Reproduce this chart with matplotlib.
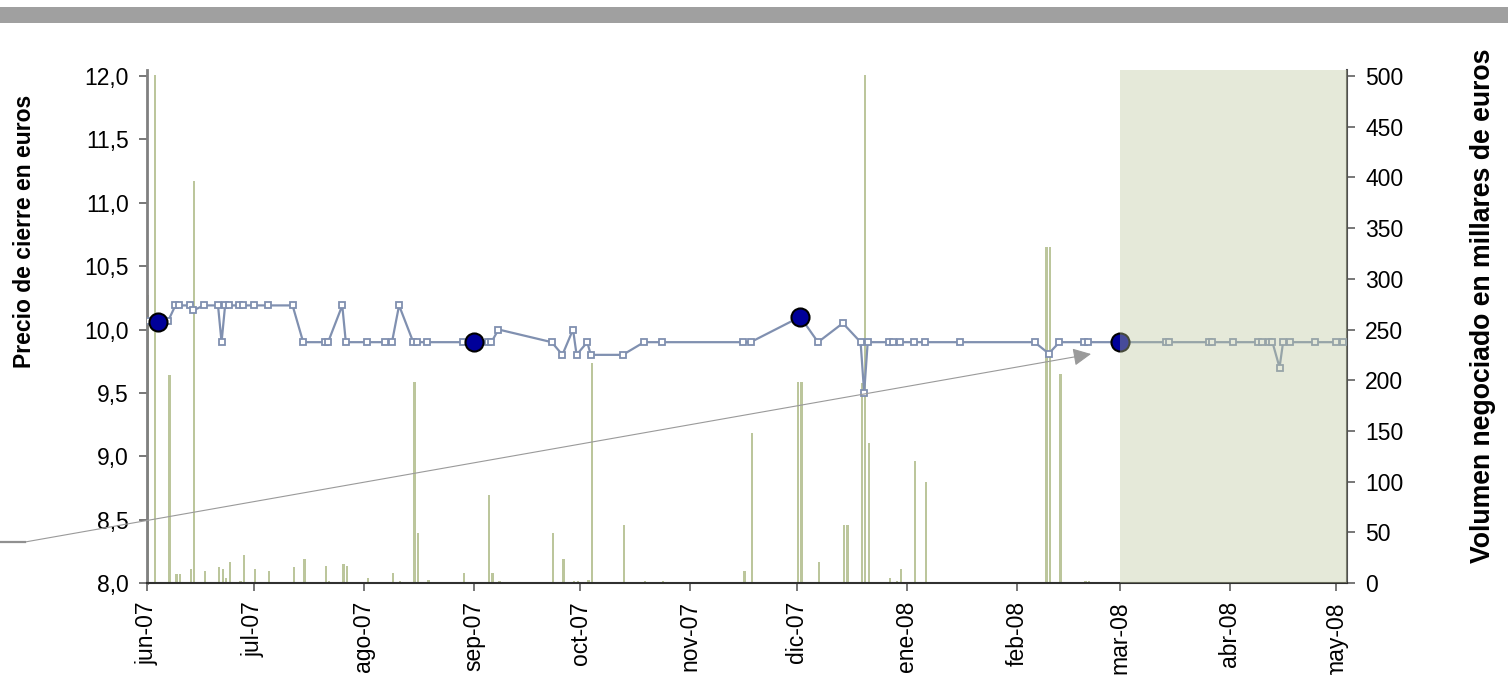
import matplotlib
matplotlib.use('Agg')
import matplotlib.pyplot as plt
import matplotlib.ticker as mticker
import pandas as pd
from matplotlib.patches import Rectangle
from matplotlib.lines import Line2D

plt.rcParams['font.family'] = ['Liberation Sans', 'DejaVu Sans']

# ---------------- data ----------------
price_dates = [
    "2007-06-01", "2007-06-04", "2007-06-07", "2007-06-09", "2007-06-10", "2007-06-13",
    "2007-06-14", "2007-06-17", "2007-06-21", "2007-06-22", "2007-06-23", "2007-06-24",
    "2007-06-27", "2007-06-28", "2007-07-01", "2007-07-05", "2007-07-12", "2007-07-15",
    "2007-07-21", "2007-07-22", "2007-07-26", "2007-07-27", "2007-08-02", "2007-08-07",
    "2007-08-09", "2007-08-11", "2007-08-15", "2007-08-16", "2007-08-19", "2007-08-29",
    "2007-09-01", "2007-09-05", "2007-09-06", "2007-09-08", "2007-09-23", "2007-09-26",
    "2007-09-29", "2007-09-30", "2007-10-03", "2007-10-04", "2007-10-13", "2007-10-19",
    "2007-10-24", "2007-11-16", "2007-11-18", "2007-12-02", "2007-12-07", "2007-12-14",
    "2007-12-19", "2007-12-20", "2007-12-21", "2007-12-27", "2007-12-28", "2007-12-30",
    "2008-01-03", "2008-01-06", "2008-01-16", "2008-02-06", "2008-02-10", "2008-02-13",
    "2008-02-20", "2008-02-21", "2008-03-01", "2008-03-14", "2008-03-15", "2008-03-26",
    "2008-03-27", "2008-04-02", "2008-04-09", "2008-04-10", "2008-04-12", "2008-04-13",
    "2008-04-15", "2008-04-16", "2008-04-18", "2008-04-25", "2008-05-01", "2008-05-03",
]
price_values = [
    10.07, 10.06, 10.07, 10.19, 10.19, 10.19,
    10.15, 10.19, 10.19, 9.90, 10.19, 10.19,
    10.19, 10.19, 10.19, 10.19, 10.19, 9.90,
    9.90, 9.90, 10.19, 9.90, 9.90, 9.90,
    9.90, 10.19, 9.90, 9.90, 9.90, 9.90,
    9.90, 9.90, 9.90, 10.00, 9.90, 9.80,
    10.00, 9.80, 9.90, 9.80, 9.80, 9.90,
    9.90, 9.90, 9.90, 10.10, 9.90, 10.05,
    9.90, 9.50, 9.90, 9.90, 9.90, 9.90,
    9.90, 9.90, 9.90, 9.90, 9.81, 9.90,
    9.90, 9.90, 9.90, 9.90, 9.90, 9.90,
    9.90, 9.90, 9.90, 9.90, 9.90, 9.90,
    9.70, 9.90, 9.90, 9.90, 9.90, 9.90,
]
highlight_dates = ["2007-06-04", "2007-09-01", "2007-12-02", "2008-03-01"]

volume_dates = [
    "2007-06-01", "2007-06-03", "2007-06-07", "2007-06-09", "2007-06-10", "2007-06-13",
    "2007-06-14", "2007-06-17", "2007-06-21", "2007-06-22", "2007-06-23", "2007-06-24",
    "2007-06-27", "2007-06-28", "2007-07-01", "2007-07-05", "2007-07-12", "2007-07-15",
    "2007-07-21", "2007-07-22", "2007-07-26", "2007-07-27", "2007-08-02", "2007-08-09",
    "2007-08-11", "2007-08-15", "2007-08-16", "2007-08-19", "2007-08-29", "2007-09-05",
    "2007-09-06", "2007-09-08", "2007-09-23", "2007-09-26", "2007-09-29", "2007-09-30",
    "2007-10-03", "2007-10-04", "2007-10-13", "2007-10-19", "2007-10-24", "2007-11-16",
    "2007-11-18", "2007-12-01", "2007-12-02", "2007-12-07", "2007-12-14", "2007-12-15",
    "2007-12-19", "2007-12-20", "2007-12-21", "2007-12-27", "2007-12-29", "2007-12-30",
    "2008-01-03", "2008-01-06", "2008-02-09", "2008-02-10", "2008-02-13", "2008-02-20",
    "2008-02-21",
]
volume_values = [
    284, 501, 205, 9, 9, 14,
    396, 12, 16, 14, 5, 21,
    2, 28, 14, 12, 16, 24,
    17, 2, 19, 17, 5, 10,
    2, 198, 49, 3, 10, 87,
    10, 2, 49, 24, 2, 2,
    3, 217, 57, 2, 2, 12,
    148, 198, 198, 21, 57, 57,
    197, 501, 138, 5, 2, 14,
    120, 100, 331, 331, 206, 2,
    2,
]

month_ticks = ["2007-06-01", "2007-07-01", "2007-08-01", "2007-09-01", "2007-10-01",
               "2007-11-01", "2007-12-01", "2008-01-01", "2008-02-01", "2008-03-01",
               "2008-04-01", "2008-05-01"]
month_labels = ["jun-07", "jul-07", "ago-07", "sep-07", "oct-07", "nov-07",
                "dic-07", "ene-08", "feb-08", "mar-08", "abr-08", "may-08"]

price_ticks = [8.0, 8.5, 9.0, 9.5, 10.0, 10.5, 11.0, 11.5, 12.0]
volume_ticks = [0, 50, 100, 150, 200, 250, 300, 350, 400, 450, 500]

shade_start = "2008-03-01"
x_start, x_end = "2007-06-01", "2008-05-04"

# ---------------- figure ----------------
W, H = 1508, 675
fig = plt.figure(figsize=(W / 100, H / 100), dpi=100)

ax_vol = fig.add_axes([147 / W, 1 - 583 / H, 1200 / W, 513 / H])
ax_p = ax_vol.twinx()

BAR_C = '#BCC69C'
LINE_C = '#8090B0'
FS = 16.5

ax_vol.bar(pd.to_datetime(volume_dates), volume_values, width=0.65,
           color=BAR_C, align='edge', zorder=2)

ax_p.plot(pd.to_datetime(price_dates), price_values, color=LINE_C, lw=1.6,
          marker='s', ms=5, mfc='white', mec=LINE_C, mew=1.3, zorder=3)

pmap = dict(zip(price_dates, price_values))
ax_p.plot(pd.to_datetime(highlight_dates), [pmap[d] for d in highlight_dates],
          linestyle='none', marker='o', ms=13, mfc='#000099', mec='black',
          mew=1.5, zorder=4)

ax_p.axvspan(pd.Timestamp(shade_start), pd.Timestamp(x_end), color=BAR_C,
             alpha=0.38, lw=0, zorder=5)

# limits
ax_vol.set_xlim(pd.Timestamp(x_start), pd.Timestamp(x_end))
top_p = 12.0 + 6 / 126.75
ax_p.set_ylim(8.0, top_p)
ax_vol.set_ylim(0, 500 * (top_p - 8.0) / 4.0)

# axes sides
ax_p.yaxis.set_ticks_position('left')
ax_vol.yaxis.set_ticks_position('right')

ax_p.set_yticks(price_ticks)
ax_p.yaxis.set_major_formatter(mticker.FuncFormatter(lambda v, p: f"{v:.1f}".replace('.', ',')))
ax_vol.set_yticks(volume_ticks)

ax_vol.set_xticks(pd.to_datetime(month_ticks))
ax_vol.set_xticklabels(month_labels, rotation=90)

for a in (ax_p, ax_vol):
    a.tick_params(axis='both', labelsize=FS, length=6, width=1.2,
                  color='#606060', direction='out', pad=7)

for s in ax_vol.spines.values():
    s.set_visible(False)
ax_p.spines['top'].set_visible(False)
ax_p.spines['left'].set_color('#808080')
ax_p.spines['left'].set_linewidth(2.0)
ax_p.spines['right'].set_color('#505050')
ax_p.spines['right'].set_linewidth(1.5)
ax_p.spines['bottom'].set_color('#303030')
ax_p.spines['bottom'].set_linewidth(1.5)

# axis titles
fig.text(25 / W, 1 - 231 / H, 'Precio de cierre en euros', rotation=90,
         ha='center', va='center', fontsize=FS, fontweight='bold')
fig.text(1483 / W, 1 - 306 / H, 'Volumen negociado en millares de euros', rotation=90,
         ha='center', va='center', fontsize=19.2, fontweight='bold')

# top grey band
fig.add_artist(Rectangle((0, 1 - 23 / H), 1, 16 / H, transform=fig.transFigure,
                         facecolor='#A0A0A0', edgecolor='none'))

# arrow
fig.add_artist(Line2D([0, 25 / W], [1 - 542 / H, 1 - 542 / H], transform=fig.transFigure,
                      color='#909090', lw=1.6))
ax_p.annotate('', xy=(1091 / W, 1 - 354 / H), xytext=(25 / W, 1 - 542 / H),
              xycoords='figure fraction', textcoords='figure fraction',
              annotation_clip=False, zorder=10,
              arrowprops=dict(arrowstyle='-|>,head_length=0.55,head_width=0.27',
                              mutation_scale=20, color='#9A9A9A', lw=0.8,
                              shrinkA=0, shrinkB=0))

fig.savefig('out.png', dpi=100)
